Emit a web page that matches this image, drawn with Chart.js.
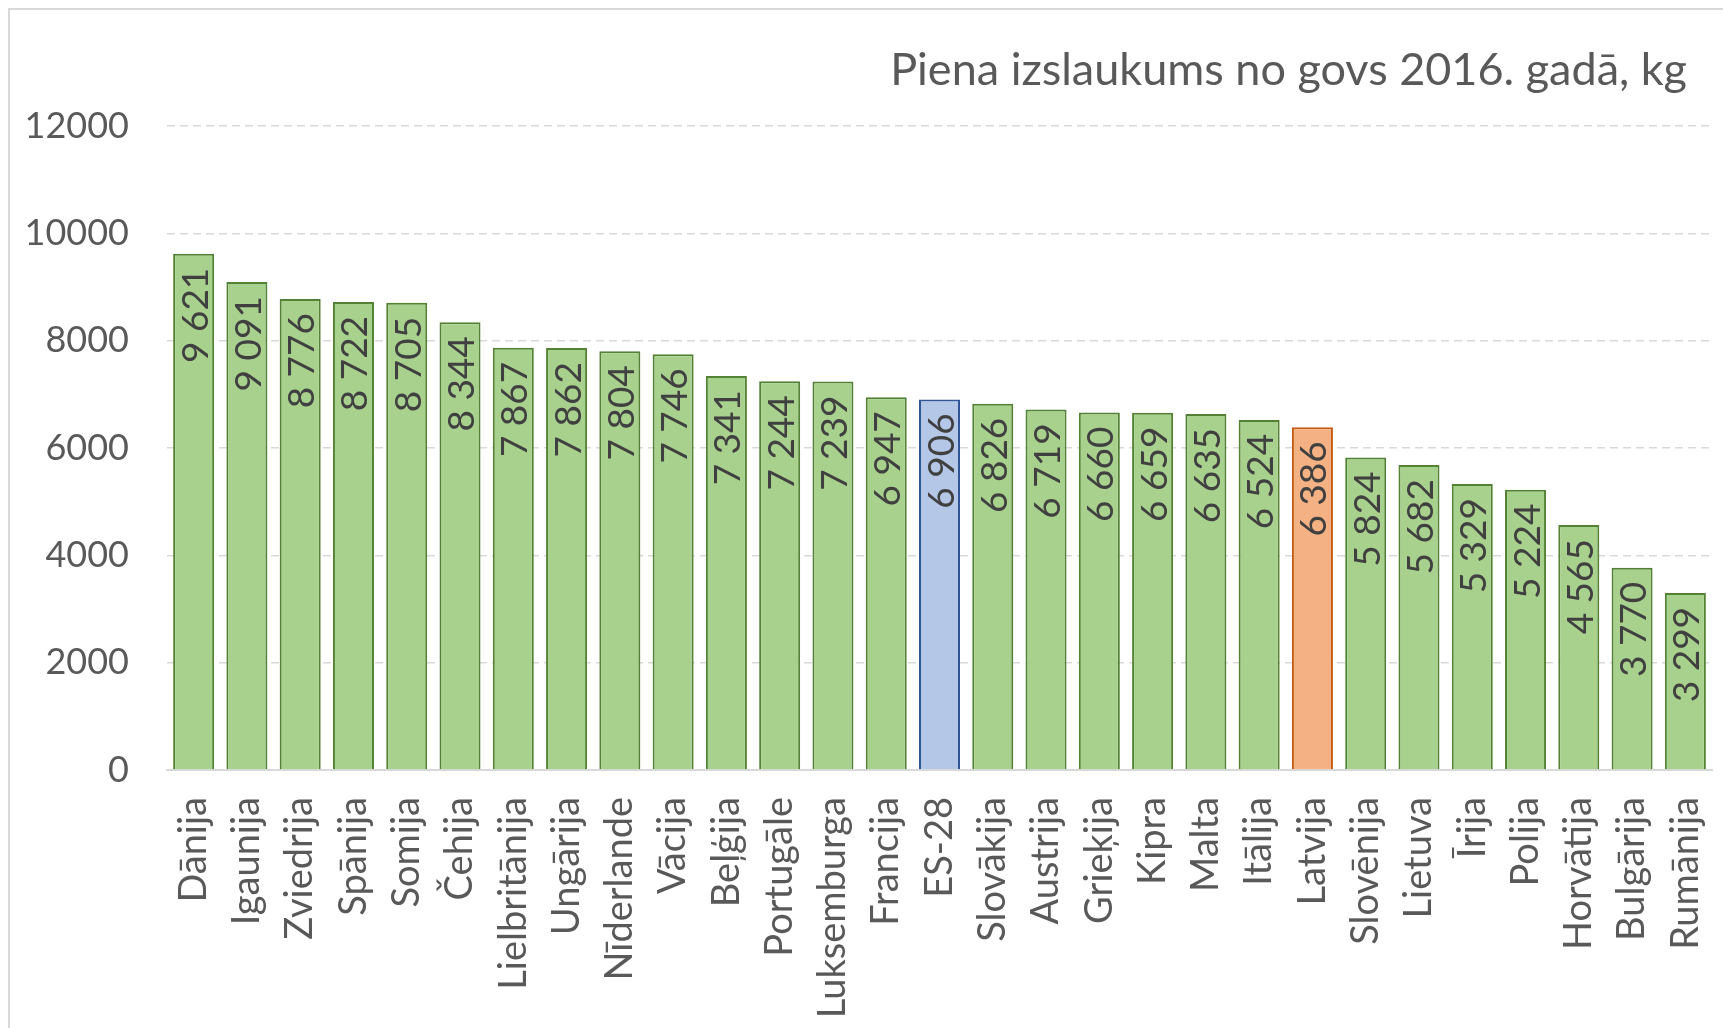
<!DOCTYPE html>
<html>
<head>
<meta charset="utf-8">
<script src="https://cdn.jsdelivr.net/npm/chart.js@4/dist/chart.umd.min.js"></script>
<style>
  html, body { margin: 0; padding: 0; background: #ffffff; }
  #wrap { width: 1723px; height: 1028px; position: relative; }
</style>
</head>
<body>
<div id="wrap"><canvas id="c" width="1723" height="1028"></canvas></div>
<script>
const categories = ["Dānija","Igaunija","Zviedrija","Spānija","Somija","Čehija","Lielbritānija","Ungārija","Nīderlande","Vācija","Beļģija","Portugāle","Luksemburga","Francija","ES-28","Slovākija","Austrija","Grieķija","Kipra","Malta","Itālija","Latvija","Slovēnija","Lietuva","Īrija","Polija","Horvātija","Bulgārija","Rumānija"];
const milkYield = [9621,9091,8776,8722,8705,8344,7867,7862,7804,7746,7341,7244,7239,6947,6906,6826,6719,6660,6659,6635,6524,6386,5824,5682,5329,5224,4565,3770,3299];
const yTicks = [0,2000,4000,6000,8000,10000,12000];
const titleText = "Piena izslaukums no govs 2016. gadā, kg";

const FONT = "Lato, 'Open Sans', sans-serif";
const TEXT = "#595959";

const fills = categories.map(c => c === "ES-28" ? "#B4C7E7" : (c === "Latvija" ? "#F4B183" : "#A9D18E"));
const borders = categories.map(c => c === "ES-28" ? "#2F5597" : (c === "Latvija" ? "#C55A11" : "#548235"));

function fmt(v) {
  const s = String(v);
  return s.length > 3 ? s.slice(0, s.length - 3) + " " + s.slice(-3) : s;
}

const framePlugin = {
  id: 'frame',
  beforeDraw(chart) {
    const ctx = chart.ctx;
    ctx.save();
    ctx.fillStyle = '#ffffff';
    ctx.fillRect(0, 0, chart.width, chart.height);
    ctx.strokeStyle = '#D9D9D9';
    ctx.lineWidth = 2;
    ctx.strokeRect(9, 9, chart.width + 20, chart.height + 20);
    ctx.restore();
  }
};

const titlePlugin = {
  id: 'rightTitle',
  afterDraw(chart) {
    const ctx = chart.ctx;
    ctx.save();
    ctx.font = "45px " + FONT;
    ctx.fillStyle = TEXT;
    ctx.textAlign = 'right';
    ctx.textBaseline = 'alphabetic';
    ctx.fillText(titleText, 1687, 85);
    ctx.restore();
  }
};

const valueLabels = {
  id: 'valueLabels',
  afterDatasetsDraw(chart) {
    const ctx = chart.ctx;
    const meta = chart.getDatasetMeta(0);
    ctx.save();
    ctx.font = "37px " + FONT;
    ctx.fillStyle = "#404040";
    ctx.textAlign = 'right';
    ctx.textBaseline = 'alphabetic';
    meta.data.forEach((bar, i) => {
      ctx.save();
      ctx.translate(bar.x + 14, bar.y + 14);
      ctx.rotate(-Math.PI / 2);
      ctx.fillText(fmt(milkYield[i]), 0, 0);
      ctx.restore();
    });
    ctx.restore();
  }
};

new Chart(document.getElementById('c'), {
  type: 'bar',
  data: {
    labels: categories,
    datasets: [{
      data: milkYield,
      backgroundColor: fills,
      borderColor: borders,
      borderWidth: 2,
      borderSkipped: 'start',
      barPercentage: 0.77,
      categoryPercentage: 1.0
    }]
  },
  options: {
    responsive: false,
    animation: false,
    devicePixelRatio: 1,
    layout: { padding: { top: 126, right: 11, bottom: 0, left: 0 } },
    plugins: {
      legend: { display: false },
      title: { display: false },
      tooltip: { enabled: false }
    },
    scales: {
      x: {
        offset: true,
        grid: { display: false, drawTicks: false },
        border: { display: true, color: '#D9D9D9', width: 2 },
        ticks: {
          minRotation: 90, maxRotation: 90, autoSkip: false,
          padding: 27,
          color: TEXT,
          font: { family: FONT, size: 38 }
        },
        afterFit(s) { s.height = 258; s.paddingLeft = 0; s.paddingRight = 0; }
      },
      y: {
        min: 0, max: 12000,
        afterBuildTicks(s) { s.ticks = yTicks.map(v => ({ value: v })); },
        grid: { color: '#D9D9D9', lineWidth: 1.5, drawTicks: false },
        border: { display: false, dash: [8, 5] },
        ticks: {
          padding: 38,
          color: TEXT,
          font: { family: FONT, size: 36 },
          callback: v => String(v)
        },
        afterFit(s) { s.width = 167; s.paddingTop = 0; s.paddingBottom = 0; }
      }
    }
  },
  plugins: [framePlugin, valueLabels, titlePlugin]
});
</script>
</body>
</html>
